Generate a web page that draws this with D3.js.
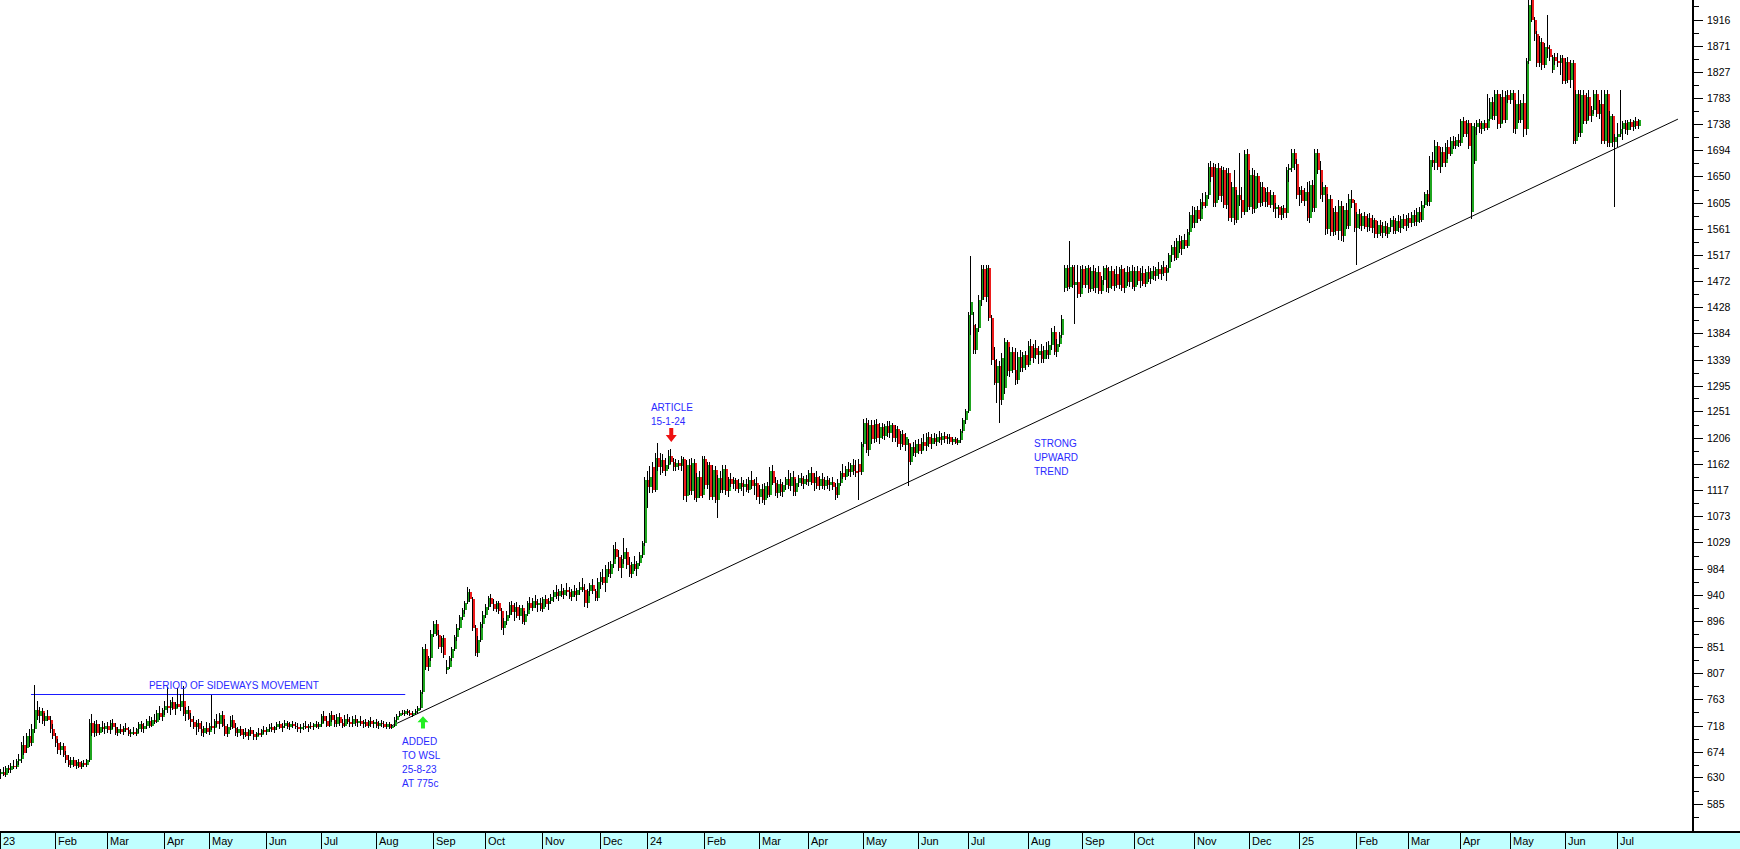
<!DOCTYPE html>
<html><head><meta charset="utf-8">
<script src="https://cdn.jsdelivr.net/npm/d3@7"></script>
<style>html,body{margin:0;padding:0;background:#fff;overflow:hidden}</style>
</head><body>
<svg id="chart" width="1740" height="849"></svg>
<script>
// ---------------- DATA ----------------
const holidays = ["2023-03-21","2023-04-07","2023-04-10","2023-04-27","2023-05-01","2023-06-16","2023-08-09","2023-09-25","2023-12-15","2023-12-25","2023-12-26",
"2024-01-01","2024-03-21","2024-03-29","2024-04-01","2024-05-01","2024-05-29","2024-06-17","2024-08-09","2024-09-24","2024-12-16","2024-12-25","2024-12-26",
"2025-01-01","2025-03-21","2025-04-18","2025-04-21","2025-04-28","2025-05-01","2025-06-16"];
const firstDay = "2023-01-03";

// [open, high, low, close] in cents, one per trading day
const candles2023 = [
// Jan
[636,645,628,640],[640,648,632,635],[635,650,630,646],[646,652,638,642],[642,655,638,650],[650,660,645,648],[648,662,644,658],[658,670,652,662],[662,690,655,685],[685,700,668,672],
[680,705,672,700],[700,712,682,688],[688,720,684,712],[712,787,705,745],[745,760,728,735],[735,750,722,742],[742,748,720,726],[726,740,718,735],[735,745,725,728],[728,735,705,712],[712,720,695,700],
// Feb
[700,705,682,688],[688,695,670,676],[676,690,668,684],[684,688,664,668],[668,675,655,660],[660,668,648,652],[652,664,646,660],[660,665,648,650],[650,660,644,656],[656,662,646,648],
[648,658,645,655],[655,660,648,652],[652,662,648,660],[660,730,656,722],[722,738,700,705],[705,725,698,720],[720,728,700,706],[706,720,702,716],[716,726,708,712],[712,722,704,718],
// Mar
[718,724,706,710],[710,728,704,722],[722,730,712,716],[716,722,702,706],[706,716,700,712],[712,720,704,708],[708,718,702,714],[714,722,708,710],[710,716,700,704],[704,712,698,708],
[708,716,702,704],[704,714,700,712],[712,724,706,720],[720,726,708,712],[712,722,706,718],[718,730,712,726],[726,734,714,718],[718,732,716,728],[728,738,720,724],[724,745,722,740],[740,752,728,732],[732,748,726,744],
// Apr
[744,760,736,752],[752,784,740,748],[748,762,736,758],[758,766,744,746],[746,758,736,754],[754,782,748,750],[750,772,742,760],[760,786,734,738],[738,750,726,744],[744,752,728,730],
[730,740,716,724],[724,734,712,716],[716,728,702,722],[722,730,708,712],[712,726,700,706],[706,718,698,714],[714,724,704,708],
// May
[708,722,702,718],[718,770,710,714],[714,730,704,726],[726,738,716,720],[720,740,712,736],[736,742,716,718],[718,730,700,704],[704,720,698,716],[716,734,710,728],[728,736,712,714],
[714,722,700,706],[706,716,698,712],[712,718,700,702],[702,712,696,708],[708,714,698,700],[700,712,694,710],[710,716,700,704],[704,710,694,698],[698,708,694,706],[706,714,700,702],[702,712,698,710],[710,718,704,708],
// Jun
[708,716,702,712],[712,720,708,716],[716,722,708,710],[710,718,706,716],[716,724,710,720],[720,726,712,714],[714,722,708,718],[718,728,714,722],[722,726,712,716],[716,724,710,720],
[720,726,714,718],[718,724,712,716],[716,722,708,712],[712,720,706,716],[716,722,710,718],[718,726,712,714],[714,720,708,718],[718,724,712,716],[716,722,710,720],[720,726,714,716],[716,724,712,720],
// Jul
[720,738,716,734],[734,742,722,726],[726,734,716,718],[718,740,716,736],[736,742,724,728],[728,736,716,720],[720,738,716,732],[732,740,718,722],[722,730,714,718],[718,736,716,730],
[730,738,720,724],[724,732,716,720],[720,734,716,730],[730,736,718,722],[722,730,716,726],[726,734,718,720],[720,728,714,724],[724,730,716,718],[718,728,714,726],[726,732,716,720],[720,728,714,724],
// Aug
[724,730,714,718],[718,726,712,722],[722,728,716,720],[720,726,714,716],[716,724,712,720],[720,724,712,714],[714,720,712,718],[718,732,716,728],[728,738,724,734],[734,742,732,740],
[740,744,736,738],[738,744,734,742],[742,746,736,740],[740,744,734,736],[736,742,732,740],[740,746,736,742],[742,752,738,748],[748,778,745,775],[775,852,772,848],[848,856,812,818],[818,836,810,832],[832,880,828,874],
// Sep
[874,895,868,890],[890,898,870,872],[872,880,848,852],[852,870,842,866],[866,872,832,838],[812,830,806,818],[818,836,814,832],[832,852,828,848],[848,872,844,868],[868,890,862,884],
[884,906,880,902],[902,918,898,914],[914,930,908,926],[928,954,924,944],[944,950,928,932],[932,936,878,884],[884,888,836,842],[842,870,834,864],[864,894,860,890],[890,912,884,906],
// Oct
[906,924,900,920],[920,938,914,934],[934,942,920,924],[924,932,912,916],[916,930,910,926],[926,930,908,912],[912,918,880,884],[884,900,872,896],[896,912,888,906],[906,928,900,922],
[922,930,906,910],[910,926,896,920],[920,928,900,904],[904,922,898,918],[918,922,890,894],[894,912,888,908],[908,930,904,926],[926,936,914,918],[918,934,912,930],[930,940,918,922],[922,932,910,926],[926,934,912,916],
// Nov
[916,936,910,932],[932,940,920,924],[924,934,914,930],[930,942,924,936],[936,948,928,944],[944,956,932,938],[938,950,930,946],[946,958,936,940],[940,952,932,948],[948,960,938,944],
[944,954,932,936],[936,950,930,946],[946,956,936,940],[940,952,930,948],[948,962,940,954],[954,968,944,948],[948,958,920,926],[926,950,918,946],[946,960,938,956],[956,966,942,946],[946,950,930,934],[934,968,930,962],
// Dec
[962,978,950,970],[970,984,956,960],[960,990,944,984],[984,996,970,976],[976,998,968,992],[992,1024,986,1018],[1018,1030,1000,1004],[1004,1016,980,986],[986,1008,968,1000],[1000,1036,992,1012],
[1012,1020,984,990],[990,1004,970,976],[976,996,968,992],[992,1006,980,984],[984,998,972,994],[994,1012,988,1008],[1008,1032,1002,1028],[1028,1140,1022,1134]
];

const candles2024 = [
// Jan
[1134,1150,1088,1122],[1122,1158,1112,1140],[1156,1166,1112,1118],[1118,1180,1114,1172],[1172,1197,1150,1156],[1156,1180,1144,1168],[1168,1178,1146,1150],[1150,1172,1142,1160],[1160,1186,1154,1176],[1176,1188,1162,1166],
[1166,1172,1150,1156],[1156,1170,1150,1164],[1164,1168,1152,1158],[1158,1176,1150,1170],[1170,1174,1100,1108],[1108,1168,1098,1160],[1160,1170,1110,1116],[1116,1172,1110,1164],[1164,1170,1100,1104],[1104,1146,1098,1140],[1140,1150,1104,1108],[1110,1176,1104,1170],
// Feb
[1170,1176,1120,1126],[1126,1166,1120,1160],[1160,1166,1100,1106],[1106,1160,1100,1152],[1152,1158,1096,1100],[1100,1144,1070,1138],[1138,1150,1112,1118],[1118,1160,1112,1154],[1154,1160,1110,1116],[1116,1140,1106,1136],
[1136,1146,1122,1128],[1128,1140,1120,1134],[1134,1138,1116,1120],[1120,1136,1112,1130],[1130,1140,1116,1122],[1122,1134,1108,1128],[1128,1136,1114,1118],[1118,1140,1112,1134],[1134,1150,1120,1124],[1124,1136,1110,1130],[1130,1140,1100,1106],
// Mar
[1106,1126,1094,1120],[1120,1128,1096,1100],[1100,1130,1092,1124],[1124,1132,1104,1110],[1110,1156,1106,1150],[1150,1160,1126,1130],[1130,1140,1108,1112],[1112,1134,1104,1128],[1128,1136,1108,1114],[1114,1132,1106,1126],
[1126,1140,1118,1136],[1136,1152,1120,1124],[1124,1146,1116,1140],[1140,1150,1108,1114],[1114,1136,1108,1130],[1130,1144,1122,1138],[1138,1146,1124,1128],[1128,1142,1120,1136],[1136,1144,1126,1132],
// Apr
[1132,1152,1124,1146],[1146,1156,1126,1130],[1130,1146,1116,1140],[1140,1150,1120,1124],[1124,1142,1118,1136],[1136,1146,1120,1124],[1124,1140,1118,1134],[1134,1142,1120,1126],[1126,1138,1116,1132],[1132,1140,1118,1122],
[1122,1130,1100,1110],[1110,1136,1104,1130],[1130,1150,1124,1146],[1146,1162,1136,1140],[1140,1158,1134,1154],[1154,1166,1142,1148],[1148,1164,1140,1160],[1160,1170,1144,1150],[1150,1168,1140,1146],[1162,1170,1100,1148],[1148,1200,1144,1196],
// May
[1196,1238,1190,1232],[1232,1240,1180,1186],[1186,1236,1176,1228],[1228,1236,1196,1204],[1204,1236,1198,1230],[1230,1238,1200,1206],[1206,1232,1196,1224],[1224,1232,1204,1210],[1210,1230,1202,1226],[1226,1234,1208,1214],
[1214,1234,1206,1228],[1228,1232,1200,1206],[1206,1228,1200,1222],[1222,1226,1190,1196],[1196,1218,1186,1212],[1212,1220,1190,1194],[1194,1214,1184,1208],[1198,1204,1124,1166],[1166,1196,1160,1190],[1190,1200,1176,1180],[1180,1202,1174,1196],
// Jun
[1196,1204,1178,1184],[1184,1206,1178,1200],[1200,1212,1186,1192],[1192,1214,1184,1208],[1208,1216,1190,1196],[1196,1212,1188,1206],[1206,1214,1196,1200],[1200,1212,1192,1208],[1208,1218,1198,1202],[1202,1214,1194,1210],
[1210,1216,1198,1204],[1204,1212,1196,1208],[1208,1212,1196,1200],[1200,1208,1194,1204],[1204,1208,1196,1198],[1198,1206,1194,1202],[1202,1222,1198,1218],[1218,1240,1214,1236],[1236,1256,1230,1252],
// Jul
[1252,1420,1248,1414],[1414,1514,1380,1436],[1398,1420,1348,1356],[1356,1400,1348,1392],[1392,1448,1386,1440],[1440,1500,1430,1492],[1492,1500,1440,1446],[1446,1500,1436,1494],[1494,1500,1404,1410],[1410,1414,1330,1338],
[1338,1360,1296,1300],[1300,1340,1266,1328],[1328,1336,1232,1270],[1270,1350,1262,1342],[1290,1376,1280,1368],[1368,1372,1312,1320],[1320,1360,1310,1352],[1352,1360,1316,1322],[1322,1358,1296,1304],[1304,1352,1298,1344],
[1344,1356,1318,1324],[1324,1352,1318,1346],[1346,1354,1322,1330],
// Aug
[1330,1370,1326,1362],[1362,1374,1336,1342],[1342,1366,1334,1358],[1358,1372,1340,1346],[1346,1362,1332,1354],[1354,1366,1334,1340],[1340,1362,1334,1356],[1356,1368,1340,1346],[1346,1370,1340,1364],[1364,1392,1356,1386],
[1386,1396,1346,1352],[1352,1374,1344,1366],[1366,1386,1360,1380],[1380,1414,1376,1408],[1460,1500,1454,1494],[1494,1500,1456,1462],[1462,1540,1458,1496],[1496,1500,1460,1466],[1466,1500,1400,1470],[1470,1500,1444,1450],[1450,1498,1446,1492],
// Sep
[1492,1500,1460,1466],[1466,1498,1460,1494],[1494,1500,1452,1458],[1458,1496,1454,1490],[1490,1500,1456,1460],[1460,1494,1452,1488],[1488,1498,1450,1456],[1456,1480,1450,1474],[1474,1498,1466,1494],[1494,1500,1454,1460],
[1460,1496,1452,1490],[1490,1498,1458,1464],[1464,1492,1456,1484],[1484,1498,1460,1466],[1466,1496,1458,1492],[1492,1500,1456,1460],[1460,1494,1452,1488],[1488,1498,1464,1470],[1470,1496,1462,1490],[1490,1500,1458,1462],
// Oct
[1462,1496,1456,1490],[1490,1498,1466,1472],[1472,1494,1460,1486],[1486,1498,1464,1468],[1468,1492,1462,1488],[1488,1498,1470,1476],[1476,1494,1468,1490],[1490,1498,1474,1480],[1480,1496,1472,1492],[1492,1504,1476,1484],
[1484,1500,1474,1496],[1496,1506,1480,1486],[1486,1500,1472,1494],[1494,1520,1488,1516],[1516,1534,1504,1530],[1530,1540,1506,1512],[1512,1546,1508,1540],[1540,1550,1520,1526],[1526,1548,1516,1542],[1542,1552,1526,1532],
[1532,1560,1528,1556],[1556,1590,1550,1584],[1584,1600,1562,1570],
// Nov
[1570,1598,1562,1592],[1592,1600,1570,1578],[1578,1612,1574,1606],[1606,1622,1594,1600],[1600,1624,1596,1618],[1618,1672,1612,1666],[1666,1676,1640,1648],[1666,1672,1598,1604],[1604,1670,1598,1664],[1664,1672,1610,1616],
[1616,1668,1606,1660],[1660,1666,1596,1602],[1602,1664,1594,1656],[1656,1664,1574,1580],[1580,1640,1572,1632],[1632,1660,1568,1576],[1576,1626,1570,1618],[1618,1690,1600,1610],[1610,1632,1580,1590],[1590,1694,1584,1688],[1688,1696,1590,1598],
// Dec
[1598,1660,1592,1652],[1652,1664,1586,1594],[1594,1660,1588,1650],[1650,1656,1596,1604],[1604,1640,1598,1632],[1632,1640,1600,1606],[1606,1630,1598,1624],[1624,1632,1598,1602],[1602,1626,1596,1618],[1618,1624,1590,1594],
[1594,1604,1580,1598],[1598,1602,1580,1584],[1584,1600,1576,1596],[1596,1602,1580,1588],[1588,1666,1580,1660],[1660,1670,1640,1664],[1664,1696,1658,1690],[1690,1696,1660,1670],[1670,1680,1612,1618]
];

const candles2025 = [
// Jan
[1618,1632,1600,1626],[1626,1634,1604,1608],[1608,1630,1600,1624],[1624,1640,1574,1580],[1580,1642,1570,1636],[1636,1644,1590,1596],[1596,1696,1590,1690],[1690,1696,1654,1660],[1660,1676,1612,1618],[1618,1640,1606,1632],
[1632,1636,1550,1560],[1560,1620,1552,1612],[1612,1618,1548,1556],[1556,1596,1548,1590],[1590,1600,1550,1558],[1558,1610,1542,1600],[1600,1608,1540,1548],[1548,1600,1538,1592],[1592,1604,1560,1566],[1566,1620,1560,1612],
[1612,1626,1596,1604],[1604,1610,1556,1562],
// Feb
[1562,1590,1500,1586],[1586,1594,1560,1566],[1566,1588,1558,1582],[1582,1590,1560,1564],[1564,1586,1556,1580],[1580,1588,1558,1562],[1562,1584,1554,1576],[1576,1580,1546,1552],[1552,1574,1546,1568],[1568,1576,1548,1554],
[1554,1572,1546,1566],[1566,1574,1548,1552],[1552,1570,1546,1564],[1564,1580,1556,1576],[1576,1582,1552,1558],[1558,1580,1552,1574],[1574,1584,1556,1562],[1562,1582,1554,1578],[1578,1586,1560,1566],[1566,1584,1558,1580],
// Mar
[1580,1588,1562,1570],[1570,1590,1564,1584],[1584,1592,1566,1572],[1572,1596,1566,1590],[1590,1598,1570,1576],[1576,1608,1572,1602],[1602,1624,1596,1620],[1620,1626,1600,1606],[1606,1684,1600,1678],[1678,1692,1666,1672],
[1672,1712,1660,1702],[1702,1708,1660,1666],[1666,1700,1656,1692],[1692,1700,1666,1672],[1672,1706,1666,1700],[1700,1712,1680,1688],[1688,1716,1684,1710],[1710,1718,1696,1702],[1702,1716,1696,1712],[1712,1722,1700,1706],
// Apr
[1706,1748,1702,1744],[1744,1750,1716,1722],[1722,1746,1716,1740],[1740,1746,1696,1702],[1590,1740,1578,1736],[1676,1740,1670,1734],[1734,1746,1720,1740],[1740,1748,1724,1730],[1730,1744,1722,1740],[1740,1746,1726,1732],
[1732,1790,1728,1748],[1748,1782,1744,1776],[1776,1784,1746,1752],[1752,1796,1746,1790],[1790,1796,1730,1738],[1738,1790,1732,1784],[1784,1796,1740,1746],[1746,1794,1740,1788],[1788,1796,1774,1780],
// May
[1780,1796,1772,1792],[1792,1796,1724,1730],[1730,1780,1722,1772],[1772,1796,1740,1746],[1746,1780,1740,1774],[1774,1790,1716,1730],[1730,1850,1720,1846],[1846,1949,1840,1940],[1949,1949,1912,1916],[1916,1920,1880,1892],
[1892,1896,1836,1842],[1842,1888,1836,1878],[1878,1884,1830,1838],[1838,1876,1834,1870],[1870,1924,1850,1866],[1866,1872,1846,1852],[1830,1856,1826,1852],[1852,1860,1838,1846],[1846,1860,1836,1842],[1842,1856,1822,1850],[1850,1856,1806,1812],
// Jun
[1812,1850,1806,1844],[1844,1852,1808,1814],[1814,1848,1800,1842],[1842,1848,1704,1710],[1710,1796,1704,1790],[1790,1796,1716,1724],[1724,1796,1716,1788],[1788,1796,1738,1744],[1744,1792,1738,1784],[1784,1796,1746,1752],
[1752,1770,1742,1762],[1762,1796,1756,1790],[1790,1796,1750,1756],[1756,1780,1748,1772],[1772,1796,1704,1710],[1710,1796,1704,1790],[1790,1796,1700,1706],[1706,1760,1700,1752],[1752,1756,1700,1708],[1708,1722,1598,1716],
// Jul
[1716,1740,1700,1722],[1722,1796,1716,1730],[1730,1744,1712,1740],[1740,1746,1722,1728],[1728,1746,1720,1742],[1742,1748,1728,1734],[1734,1746,1726,1744],[1744,1750,1730,1736],[1736,1748,1730,1746]
];

const yTickLabels = [1916,1871,1827,1783,1738,1694,1650,1605,1561,1517,1472,1428,1384,1339,1295,1251,1206,1162,1117,1073,1029,984,940,896,851,807,763,718,674,630,585];
const monthNames = ["Jan","Feb","Mar","Apr","May","Jun","Jul","Aug","Sep","Oct","Nov","Dec"];

// annotation data (bar index / price)
const sidewaysLine = {i0: 11.5, i1: 155, v: 772};
const trendLine = [{i: 149, v: 716}, {i: 643, v: 1747}];
const notes = [
  {i: 89.3, v: 780, anchor: "middle", lines: ["PERIOD OF SIDEWAYS MOVEMENT"]},
  {i: 153.8, v: 685, anchor: "start", lines: ["ADDED", "TO WSL", "25-8-23", "AT 775c"]},
  {i: 249.2, v: 1252, anchor: "start", lines: ["ARTICLE", "15-1-24"]},
  {i: 396.1, v: 1191, anchor: "start", lines: ["STRONG", "UPWARD", "TREND"]}
];
const arrows = [
  {i: 161.8, vTip: 734, vTail: 713, dir: "up", color: "#22ee22"},
  {i: 257, vTip: 1199, vTail: 1223, dir: "down", color: "#ee1111"}
];

// ---------------- BUILD ----------------
const candles = candles2023.concat(candles2024, candles2025).map(d => ({o:d[0], h:d[1], l:d[2], c:d[3]}));
const hol = new Set(holidays);
const dates = [];
{
  const d = new Date(firstDay + "T00:00:00Z");
  while (dates.length < candles.length) {
    const wd = d.getUTCDay(), s = d.toISOString().slice(0,10);
    if (wd !== 0 && wd !== 6 && !hol.has(s)) dates.push(new Date(d));
    d.setUTCDate(d.getUTCDate() + 1);
  }
}
candles.forEach((c, i) => c.date = dates[i]);

const W = 1740, H = 849, axisX = 1693, bandTop = 831;
const step = 2.608;
const x = d3.scaleLinear().domain([0, 1]).range([1, 1 + step]);
const y = d3.scaleLinear().domain([585, 1916]).range([804, 19.5]);

const svg = d3.select("#chart");
svg.append("rect").attr("width", W).attr("height", H).attr("fill", "#fff");

const plot = svg.append("g");
plot.append("defs").append("clipPath").attr("id", "clip")
  .append("rect").attr("x", 0).attr("y", 0).attr("width", axisX).attr("height", bandTop);

// trend line
plot.append("line")
  .attr("x1", x(trendLine[0].i)).attr("y1", y(trendLine[0].v))
  .attr("x2", x(trendLine[1].i)).attr("y2", y(trendLine[1].v))
  .attr("stroke", "#000").attr("stroke-width", 1);

// sideways line
plot.append("line")
  .attr("x1", x(sidewaysLine.i0)).attr("x2", x(sidewaysLine.i1))
  .attr("y1", Math.round(y(sidewaysLine.v)) + 0.5).attr("y2", Math.round(y(sidewaysLine.v)) + 0.5)
  .attr("stroke", "#1a1aff").attr("stroke-width", 1);

// candles
const cg = plot.append("g").attr("clip-path", "url(#clip)").attr("shape-rendering", "crispEdges");
const green = "#1fa51f", red = "#ec1c1c";
candles.forEach((d, i) => {
  const cx = Math.round(x(i));
  const yh = y(d.h), yl = y(d.l);
  cg.append("rect").attr("x", cx - 1).attr("y", Math.round(yh)).attr("width", 1)
    .attr("height", Math.max(1, Math.round(yl) - Math.round(yh))).attr("fill", "#000");
  const top = Math.round(y(Math.max(d.o, d.c))), bot = Math.round(y(Math.min(d.o, d.c)));
  const col = d.c >= d.o ? green : red;
  cg.append("rect").attr("x", cx).attr("y", top).attr("width", 2)
    .attr("height", Math.max(1, bot - top)).attr("fill", col);
});

// annotations
const ann = svg.append("g").attr("font-family", "Liberation Sans, Arial, sans-serif").attr("font-size", 10).attr("fill", "#2a2aff");
notes.forEach(n => {
  const t = ann.append("text").attr("x", x(n.i)).attr("y", y(n.v)).attr("text-anchor", n.anchor);
  n.lines.forEach((ln, k) => t.append("tspan").attr("x", x(n.i)).attr("y", y(n.v) + k * 14).text(ln));
});
arrows.forEach(a => {
  const cx = x(a.i), yt = y(a.vTip), ye = y(a.vTail);
  const len = Math.abs(ye - yt), s = a.dir === "up" ? 1 : -1;
  const hb = yt + s * len * 0.5;
  const p = d3.path();
  p.moveTo(cx, yt); p.lineTo(cx + 5.5, hb); p.lineTo(cx + 2, hb); p.lineTo(cx + 2, ye);
  p.lineTo(cx - 2, ye); p.lineTo(cx - 2, hb); p.lineTo(cx - 5.5, hb); p.closePath();
  svg.append("path").attr("d", p.toString()).attr("fill", a.color);
});

// y axis
const ax = svg.append("g").attr("shape-rendering", "crispEdges");
ax.append("rect").attr("x", axisX - 1).attr("y", 0).attr("width", 2).attr("height", bandTop).attr("fill", "#000");
const minorVals = d3.pairs(yTickLabels).map(p => (p[0] + p[1]) / 2);
minorVals.push(yTickLabels[0] + (yTickLabels[0] - yTickLabels[1]) / 2);
minorVals.push(yTickLabels[yTickLabels.length - 1] - (yTickLabels[0] - yTickLabels[1]) / 2);
minorVals.forEach(v => {
  const yy = Math.round(y(v));
  if (yy > 0 && yy < bandTop) ax.append("rect").attr("x", axisX).attr("y", yy).attr("width", 6).attr("height", 1).attr("fill", "#000");
});
yTickLabels.forEach(v => {
  const yy = Math.round(y(v));
  ax.append("rect").attr("x", axisX).attr("y", yy).attr("width", 10).attr("height", 1).attr("fill", "#000");
  svg.append("text").attr("x", 1707).attr("y", yy + 4)
    .attr("font-family", "Liberation Sans, Arial, sans-serif").attr("font-size", 10.5).attr("fill", "#000").text(v);
});

// x axis band
const band = svg.append("g").attr("shape-rendering", "crispEdges");
band.append("rect").attr("x", 0).attr("y", bandTop).attr("width", W).attr("height", H - bandTop).attr("fill", "#c0ffff");
band.append("rect").attr("x", 0).attr("y", bandTop).attr("width", W).attr("height", 2).attr("fill", "#000");
candles.forEach((d, i) => {
  const m = d.date.getUTCMonth();
  if (i === 0 || m !== candles[i - 1].date.getUTCMonth()) {
    const dx = Math.round(x(i)) - 1;
    band.append("rect").attr("x", dx).attr("y", bandTop + 2).attr("width", 1).attr("height", H - bandTop - 2).attr("fill", "#000");
    const lbl = m === 0 ? String(d.date.getUTCFullYear()).slice(2) : monthNames[m];
    svg.append("text").attr("x", dx + 3).attr("y", 845)
      .attr("font-family", "Liberation Sans, Arial, sans-serif").attr("font-size", 11).attr("fill", "#000").text(lbl);
  }
});
</script>
</body></html>
